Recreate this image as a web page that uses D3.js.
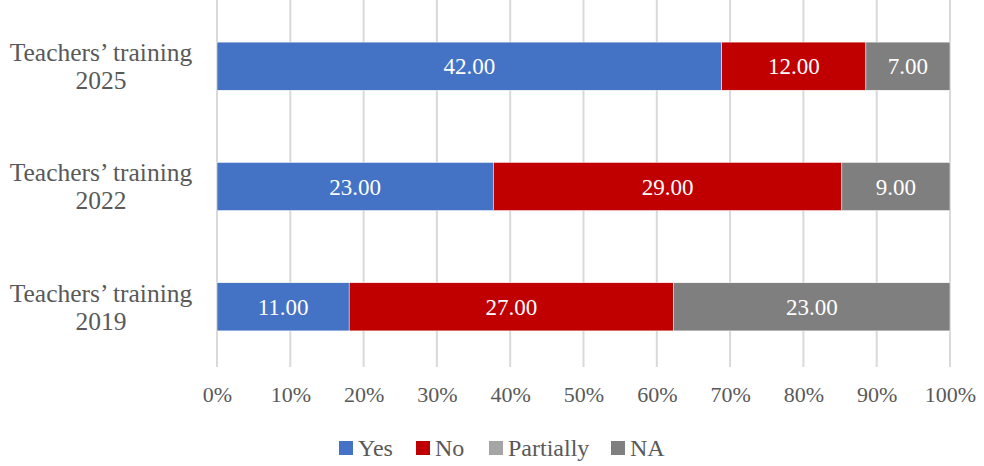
<!DOCTYPE html>
<html>
<head>
<meta charset="utf-8">
<script src="https://cdn.jsdelivr.net/npm/d3@7"></script>
<style>
  body { margin: 0; background: #fff; }
  svg text { font-family: "Liberation Serif", "DejaVu Serif", serif; }
</style>
</head>
<body>
<div id="chart"></div>
<script>
// data
const categories = ["Teachers\u2019 training 2025", "Teachers\u2019 training 2022", "Teachers\u2019 training 2019"];
const series = ["Yes", "No", "Partially", "NA"];
const yesVals = [42, 23, 11];
const noVals = [12, 29, 27];
const partVals = [0, 0, 0];
const naVals = [7, 9, 23];
const colors = ["#4472c4", "#c00000", "#a5a5a5", "#7f7f7f"];
const tickVals = [0, 0.1, 0.2, 0.3, 0.4, 0.5, 0.6, 0.7, 0.8, 0.9, 1];

const W = 984, H = 466;
const margin = {t:6, r:34, b:99, l:217};

const rows = categories.map(function(c, i){
  return {cat: c, Yes: yesVals[i], No: noVals[i], Partially: partVals[i], NA: naVals[i]};
});

const stacked = d3.stack().keys(series).offset(d3.stackOffsetExpand)(rows);

const svg = d3.select('#chart').append('svg')
  .attr('width', W).attr('height', H);

const x = d3.scaleLinear().domain([0, 1]).range([margin.l, W - margin.r]);
const y = d3.scaleBand().domain(categories).range([margin.t, H - margin.b]).paddingInner(0.6).paddingOuter(0.3);

// gridlines
svg.append('g').selectAll('line')
  .data(tickVals)
  .join('line')
  .attr('x1', d => x(d)).attr('x2', d => x(d))
  .attr('y1', 0).attr('y2', H - margin.b)
  .attr('stroke', '#d9d9d9').attr('stroke-width', 2);

// bars
const layers = svg.append('g').selectAll('g')
  .data(stacked)
  .join('g')
  .attr('fill', (d, i) => colors[i]);

layers.selectAll('rect')
  .data(d => d.map(p => ({p: p, key: d.key})))
  .join('rect')
  .attr('x', d => x(d.p[0]))
  .attr('y', d => y(d.p.data.cat))
  .attr('width', d => x(d.p[1]) - x(d.p[0]))
  .attr('height', y.bandwidth())
  .attr('stroke', '#fff').attr('stroke-width', 0.5);

// value labels
layers.selectAll('text')
  .data(d => d.map(p => ({p: p, key: d.key})).filter(d => d.p.data[d.key] > 0))
  .join('text')
  .attr('x', d => (x(d.p[0]) + x(d.p[1])) / 2)
  .attr('y', d => y(d.p.data.cat) + y.bandwidth() / 2)
  .attr('dy', '0.35em')
  .attr('text-anchor', 'middle')
  .attr('fill', '#fff')
  .attr('font-size', 23)
  .text(d => d3.format('.2f')(d.p.data[d.key]));

// x axis
const xAxis = svg.append('g')
  .attr('transform', `translate(0, ${H - margin.b})`)
  .call(d3.axisBottom(x).tickValues(tickVals).tickFormat(d3.format('.0%')).tickSize(0).tickPadding(19));
xAxis.select('.domain').remove();
xAxis.selectAll('text')
  .attr('font-size', 22)
  .attr('fill', '#595959')
  .style('font-family', '"Liberation Serif", serif');

// category labels (two lines)
const catLabels = svg.append('g').selectAll('text')
  .data(categories)
  .join('text')
  .attr('x', 101)
  .attr('y', d => y(d) + y.bandwidth() / 2)
  .attr('text-anchor', 'middle')
  .attr('font-size', 25.5)
  .attr('fill', '#595959');
catLabels.append('tspan')
  .attr('x', 101).attr('dy', '-0.2em')
  .text(d => d.replace(/ \d+$/, ''));
catLabels.append('tspan')
  .attr('x', 101).attr('dy', '1.1em')
  .text(d => d.match(/\d+$/)[0]);

// legend
const legendX = [339, 416, 489, 611];
const legend = svg.append('g').selectAll('g')
  .data(series)
  .join('g')
  .attr('transform', (d, i) => `translate(${legendX[i]}, 448)`);
legend.append('rect')
  .attr('x', 0).attr('y', -7)
  .attr('width', 14).attr('height', 14)
  .attr('fill', (d, i) => colors[i]);
legend.append('text')
  .attr('x', 19).attr('dy', '0.35em')
  .attr('font-size', 24)
  .attr('fill', '#595959')
  .text(d => d);
</script>
</body>
</html>
